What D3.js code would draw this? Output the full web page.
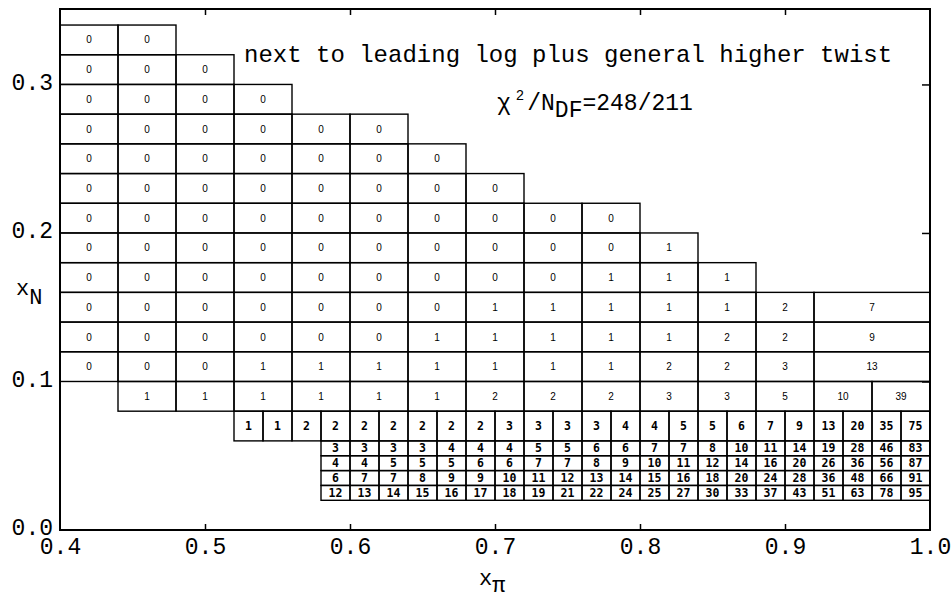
<!DOCTYPE html>
<html>
<head>
<meta charset="utf-8">
<script src="https://cdn.jsdelivr.net/npm/d3@7"></script>
<style>
  html, body { margin: 0; padding: 0; background: #fff; }
  svg { display: block; }
</style>
</head>
<body>
<svg id="chart" width="951" height="602"></svg>
<script>
// ---------------- data ----------------
// Bins in x_N (lower / upper edge) for each row of the table, top to bottom
const rowLowN  = [0.32, 0.30, 0.28, 0.26, 0.24, 0.22, 0.20, 0.18, 0.16, 0.14, 0.12, 0.10, 0.08, 0.06, 0.05, 0.04, 0.03, 0.02];
const rowHighN = [0.34, 0.32, 0.30, 0.28, 0.26, 0.24, 0.22, 0.20, 0.18, 0.16, 0.14, 0.12, 0.10, 0.08, 0.06, 0.05, 0.04, 0.03];
// First x_pi edge and x_pi bin width of each row
const rowStartPi = [0.40, 0.40, 0.40, 0.40, 0.40, 0.40, 0.40, 0.40, 0.40, 0.40, 0.40, 0.40, 0.44, 0.52, 0.58, 0.58, 0.58, 0.58];
const rowBinPi   = [0.04, 0.04, 0.04, 0.04, 0.04, 0.04, 0.04, 0.04, 0.04, 0.04, 0.04, 0.04, 0.04, 0.02, 0.02, 0.02, 0.02, 0.02];
// Rows whose last bin runs up to x_pi = 1.0
const rowLastToEnd = [false, false, false, false, false, false, false, false, false, true, true, true, false, false, false, false, false, false];
// Cell values (number in each bin)
const rowValues = [
  [0, 0],
  [0, 0, 0],
  [0, 0, 0, 0],
  [0, 0, 0, 0, 0, 0],
  [0, 0, 0, 0, 0, 0, 0],
  [0, 0, 0, 0, 0, 0, 0, 0],
  [0, 0, 0, 0, 0, 0, 0, 0, 0, 0],
  [0, 0, 0, 0, 0, 0, 0, 0, 0, 0, 1],
  [0, 0, 0, 0, 0, 0, 0, 0, 0, 1, 1, 1],
  [0, 0, 0, 0, 0, 0, 0, 1, 1, 1, 1, 1, 2, 7],
  [0, 0, 0, 0, 0, 0, 1, 1, 1, 1, 1, 2, 2, 9],
  [0, 0, 0, 1, 1, 1, 1, 1, 1, 1, 2, 2, 3, 13],
  [1, 1, 1, 1, 1, 1, 2, 2, 2, 3, 3, 5, 10, 39],
  [1, 1, 2, 2, 2, 2, 2, 2, 2, 3, 3, 3, 3, 4, 4, 5, 5, 6, 7, 9, 13, 20, 35, 75],
  [3, 3, 3, 3, 4, 4, 4, 5, 5, 6, 6, 7, 7, 8, 10, 11, 14, 19, 28, 46, 83],
  [4, 4, 5, 5, 5, 6, 6, 7, 7, 8, 9, 10, 11, 12, 14, 16, 20, 26, 36, 56, 87],
  [6, 7, 7, 8, 9, 9, 10, 11, 12, 13, 14, 15, 16, 18, 20, 24, 28, 36, 48, 66, 91],
  [12, 13, 14, 15, 16, 17, 18, 19, 21, 22, 24, 25, 27, 30, 33, 37, 43, 51, 63, 78, 95]
];
const xTicks = [0.4, 0.5, 0.6, 0.7, 0.8, 0.9, 1.0];
const yTicks = [0.0, 0.1, 0.2, 0.3];
const titleText = "next to leading log plus general higher twist";
const chiValue = "=248/211";

// ---------------- drawing ----------------
const svg = d3.select("#chart");
const x = d3.scaleLinear().domain([0.4, 1.0]).range([60, 930]);
const y = d3.scaleLinear().domain([0, 0.3508]).range([530, 9]);
const MONO = "'Liberation Mono', 'Courier New', 'DejaVu Sans Mono', monospace";

// build cells from the arrays
const cells = [];
rowValues.forEach((vals, r) => {
  vals.forEach((v, i) => {
    const x0 = rowStartPi[r] + i * rowBinPi[r];
    let x1 = x0 + rowBinPi[r];
    if (rowLastToEnd[r] && i === vals.length - 1) x1 = 1.0;
    cells.push({ x0, x1, y0: rowLowN[r], y1: rowHighN[r], v, fine: rowBinPi[r] < 0.03 });
  });
});

const g = svg.append("g");
g.selectAll("rect.cell").data(cells).enter().append("rect")
  .attr("class", "cell")
  .attr("x", d => x(d.x0))
  .attr("y", d => y(d.y1))
  .attr("width", d => x(d.x1) - x(d.x0))
  .attr("height", d => y(d.y0) - y(d.y1))
  .attr("fill", "none")
  .attr("stroke", "#000")
  .attr("stroke-width", 1.4);

g.selectAll("text.val").data(cells).enter().append("text")
  .attr("class", "val")
  .attr("x", d => (x(d.x0) + x(d.x1)) / 2)
  .attr("y", d => (y(d.y0) + y(d.y1)) / 2)
  .attr("dy", "0.36em")
  .attr("text-anchor", "middle")
  .attr("font-family", d => d.fine ? "'DejaVu Sans Mono', monospace" : "'Liberation Sans', Arial, sans-serif")
  .attr("font-weight", d => d.fine ? "bold" : "normal")
  .attr("font-size", d => d.fine ? 11.5 : 10)
  .attr("fill", "#000")
  .text(d => d.v);

// frame
svg.append("rect")
  .attr("x", x(0.4)).attr("y", y(0.3508))
  .attr("width", x(1.0) - x(0.4)).attr("height", y(0) - y(0.3508))
  .attr("fill", "none").attr("stroke", "#000").attr("stroke-width", 2);

// axes (ticks inward)
const inner = xTicks.filter(t => t > 0.41 && t < 0.99);
const innerY = yTicks.filter(t => t > 0.01);
const bottom = svg.append("g").attr("transform", `translate(0,${y(0)})`)
  .call(d3.axisBottom(x).tickValues(xTicks).tickSize(0).tickPadding(0).tickFormat(d3.format(".1f")));
bottom.select(".domain").remove();
bottom.selectAll("text")
  .attr("y", 24).attr("dy", 0)
  .attr("font-family", MONO).attr("font-size", 23).attr("fill", "#000");

const bTicks = svg.append("g").attr("transform", `translate(0,${y(0)})`)
  .call(d3.axisBottom(x).tickValues(inner).tickSize(-6).tickFormat(""));
bTicks.select(".domain").remove();
const tTicks = svg.append("g").attr("transform", `translate(0,${y(0.3508)})`)
  .call(d3.axisTop(x).tickValues(inner).tickSize(-6).tickFormat(""));
tTicks.select(".domain").remove();

const left = svg.append("g").attr("transform", `translate(${x(0.4)},0)`)
  .call(d3.axisLeft(y).tickValues(yTicks).tickSize(0).tickPadding(7).tickFormat(d3.format(".1f")));
left.select(".domain").remove();
left.selectAll("text")
  .attr("dy", "0.2em")
  .attr("font-family", MONO).attr("font-size", 23).attr("fill", "#000");

const rTicks = svg.append("g").attr("transform", `translate(${x(1.0)},0)`)
  .call(d3.axisRight(y).tickValues(innerY).tickSize(-8).tickFormat(""));
rTicks.select(".domain").remove();
svg.selectAll(".tick line").attr("stroke", "#000").attr("stroke-width", 1.5);

// axis titles
const yl = svg.append("text").attr("x", 16).attr("y", 295)
  .attr("font-family", MONO).attr("font-size", 22).attr("fill", "#000");
yl.append("tspan").text("x");
yl.append("tspan").attr("dy", 9).text("N");

const xl = svg.append("text").attr("x", 479).attr("y", 585)
  .attr("font-family", MONO).attr("font-size", 22).attr("fill", "#000");
xl.append("tspan").text("x");
xl.append("tspan").attr("dy", 7).text("π");

// annotations
svg.append("text").attr("x", 244).attr("y", 62)
  .attr("font-family", MONO).attr("font-size", 24).attr("fill", "#000")
  .text(titleText);

const chi = svg.append("text").attr("x", 497).attr("y", 110)
  .attr("font-family", MONO).attr("font-size", 23).attr("fill", "#000");
chi.append("tspan").text("χ");
chi.append("tspan").attr("dx", 5).attr("dy", -10).attr("font-size", 14).text("2");
chi.append("tspan").attr("dx", 3).attr("dy", 10).text("/N");
chi.append("tspan").attr("dy", 7).text("DF");
chi.append("tspan").attr("dy", -7).text(chiValue);
</script>
</body>
</html>
